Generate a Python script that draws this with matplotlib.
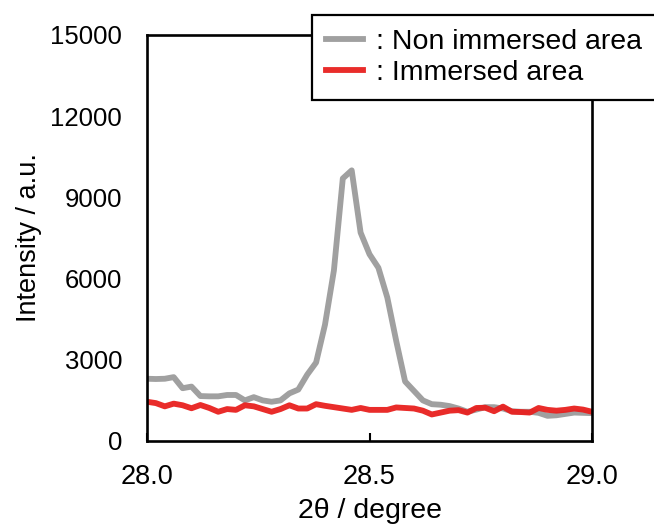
import matplotlib
matplotlib.use('Agg')
import matplotlib.pyplot as plt
import numpy as np

plt.rcParams['font.family'] = ['Liberation Sans', 'DejaVu Sans']

# 2theta from 28.00 to 29.00, step 0.02
two_theta = np.round(np.arange(28.0, 29.0001, 0.02), 2)

non_immersed = [2300, 2290, 2300, 2360, 1950, 2010, 1660, 1650, 1650, 1700,
                1700, 1500, 1620, 1500, 1450, 1500, 1760, 1900, 2450, 2900,
                4300, 6300, 9700, 10000, 7700, 6900, 6400, 5300, 3700, 2200,
                1850, 1500, 1360, 1340, 1290, 1200, 1080, 1160, 1250, 1250,
                1200, 1100, 1080, 1080, 1040, 930, 950, 1000, 1050, 1040,
                1030]

immersed = [1450, 1400, 1280, 1380, 1320, 1210, 1330, 1220, 1080, 1180,
            1150, 1320, 1280, 1180, 1080, 1180, 1320, 1200, 1200, 1360,
            1300, 1250, 1200, 1150, 1220, 1150, 1150, 1150, 1240, 1220,
            1200, 1120, 980, 1050, 1120, 1140, 1050, 1220, 1230, 1100,
            1270, 1080, 1070, 1050, 1220, 1150, 1120, 1150, 1200, 1160,
            1080]

labels = [': Non immersed area', ': Immersed area']
colors = ['#a0a0a0', '#e8201e']

fig = plt.figure(figsize=(6.54, 5.26), dpi=100)
ax = fig.add_axes([147/654, 1 - 441/526, 445/654, 406/526])

ax.plot(two_theta, non_immersed, color=colors[0], lw=4.2, label=labels[0])
ax.plot(two_theta, immersed, color=colors[1], lw=4.2, alpha=0.95,
        label=labels[1])

ax.set_xlim(28.0, 29.0)
ax.set_ylim(0, 15000)
ax.set_xticks([28.0, 28.5, 29.0])
ax.set_xticklabels(['28.0', '28.5', '29.0'])
ax.set_yticks(np.arange(0, 15001, 3000))

for s in ax.spines.values():
    s.set_linewidth(1.9)
    s.set_color('black')

ax.tick_params(axis='x', direction='in', length=6, width=1.5, pad=16.5,
               labelsize=19.5)
ax.tick_params(axis='y', length=0, pad=18, labelsize=18.5)

ax.set_xlabel('2θ / degree', fontsize=20.5)
ax.set_ylabel('Intensity / a.u.', fontsize=19.5)
ax.xaxis.set_label_coords(0.5, -0.14)
ax.yaxis.set_label_coords(-0.235, 0.5)

leg = ax.legend(loc='upper left', bbox_to_anchor=(312/654, 1 - 15/526),
                bbox_transform=fig.transFigure, fontsize=20.5,
                frameon=True, fancybox=False, framealpha=1,
                edgecolor='black', handlelength=1.3, handletextpad=0.45,
                borderpad=0.5, labelspacing=0.15, borderaxespad=0)
leg.get_frame().set_linewidth(1.6)
for line in leg.get_lines():
    line.set_linewidth(4.2)

fig.savefig('out.png', dpi=100)
